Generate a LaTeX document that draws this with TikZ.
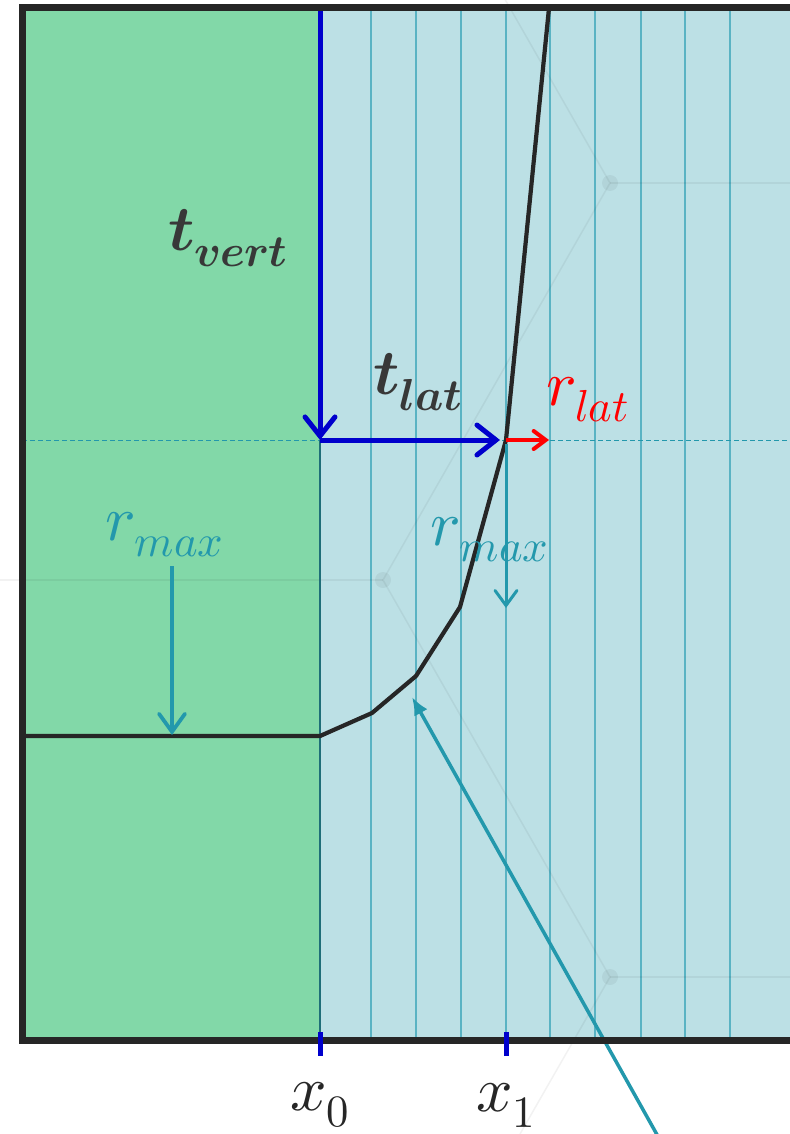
\documentclass[tikz,border=0pt]{standalone}
\usepackage{unicode-math}
\usetikzlibrary{arrows.meta}
\definecolor{greenfill}{HTML}{82D8A8}
\definecolor{bluefill}{HTML}{BCE0E5}
\definecolor{gridc}{HTML}{5AB3C3}
\definecolor{tealA}{HTML}{2398AC}
\definecolor{darkteal}{HTML}{1F6E78}
\definecolor{deepblue}{HTML}{0000CC}
\definecolor{framec}{HTML}{262626}
\definecolor{txt}{HTML}{383838}
\tikzset{
  lbl/.style={inner sep=0pt, font=\fontsize{64}{72}\selectfont},
  gridline/.style={draw=gridc, line width=1.6},
  faint/.style={draw=black, fill=black, opacity=0.05, line width=1.5},
  bluearrow/.style={draw=deepblue, line width=5, -{Straight Barb[length=19pt,width=30pt,line cap=round]}},
  tealarrow/.style={draw=tealA, line width=3.8, -{Straight Barb[length=18pt,width=26pt,line cap=round]}},
  thinteal/.style={draw=tealA, line width=3, -{Straight Barb[length=15pt,width=22pt,line cap=round]}},
  redarrow/.style={draw=red, line width=4, -{Straight Barb[length=12pt,width=18pt,line cap=round]}},
  curve/.style={draw=framec, line width=4.2, line join=round},
  tick/.style={draw=deepblue, line width=5},
}
\begin{document}
\begin{tikzpicture}[x=1pt,y=-1pt]
\useasboundingbox (0,0) rectangle (789,1134);
% regions
\fill[greenfill] (22,8) rectangle (320,1040);
\fill[bluefill] (320,8) rectangle (800,1040);
% grid lines
\foreach \gx in {371,416,461,506,550,595,641,685,730}
  \draw[gridline] (\gx,8) -- (\gx,1040);
% faint background pattern
\begin{scope}[faint]
  \draw (383,-214) -- (610,183) -- (383,580) -- (610,977) -- (520,1134);
  \draw (610,183) -- (800,183);
  \draw (383,580) -- (0,580);
  \draw (610,977) -- (800,977);
  \fill (610,183) circle (8);
  \fill (383,580) circle (8);
  \fill (610,977) circle (8);
\end{scope}
% coordinates
\coordinate (top0) at (320,10);
\coordinate (o) at (320,440);
\coordinate (p1) at (506,440);
\coordinate (p1e) at (500,440);
\coordinate (rl) at (549,440);
\coordinate (dl) at (22,440);
\coordinate (dr) at (789,440);
\coordinate (bot0) at (320,1040);
\coordinate (c0) at (22,736);
\coordinate (c1) at (320,736);
\coordinate (c2) at (372,713);
\coordinate (c3) at (416,676);
\coordinate (c4) at (460,607);
\coordinate (c6) at (549,8);
\coordinate (ma) at (172,566);
\coordinate (mb) at (172,735);
\coordinate (mm1) at (506,444);
\coordinate (mm2) at (506,608);
\coordinate (la) at (660,1140);
\coordinate (lb) at (412,697);
% dashed line
\draw[draw=tealA, line width=1, dash pattern=on 5pt off 3pt] (dl) -- (dr);
% boundary line
\draw[draw=darkteal, line width=2] (o) -- (bot0);
% curve
\draw[curve] (c0) -- (c1) -- (c2) -- (c3) -- (c4) -- (p1) -- (c6);
% arrows
\draw[bluearrow] (top0) -- (o);
\draw[bluearrow] (o) -- (p1e);
\draw[redarrow] (p1) -- (rl);
\draw[tealarrow] (ma) -- (mb);
\draw[thinteal] (mm1) -- (mm2);
\draw[draw=tealA, line width=3.5, -{Latex[length=18pt,width=15pt]}] (la) -- (lb);
% frame
\draw[draw=framec, line width=7] (800,8) -- (22,8) -- (22,1040) -- (800,1040);
% ticks
\draw[tick] (320,1032) -- (320,1056);
\draw[tick] (506,1032) -- (506,1056);
% labels
\node[lbl, text=txt] (tvert) at (228,238) {$\symbfit{t}_{\symbfit{vert}}$};
\node[lbl, text=txt] (tlat) at (418,382) {$\symbfit{t}_{\symbfit{lat}}$};
\node[lbl, text=red] (rlat) at (588,400) {$r_{lat}$};
\node[lbl, text=tealA] (rmax1) at (165,535) {$r_{max}$};
\node[lbl, text=tealA] (rmax2) at (490,540) {$r_{max}$};
\node[lbl, text=framec] (x0) at (320,1105) {$x_0$};
\node[lbl, text=framec] (x1) at (506,1105) {$x_1$};
\end{tikzpicture}
\end{document}
